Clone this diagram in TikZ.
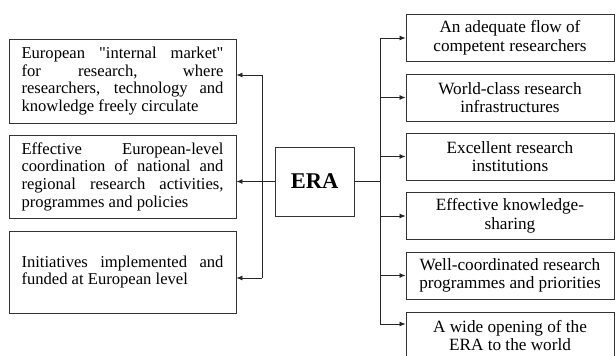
\documentclass[tikz,border=0pt]{standalone}
\usepackage{fontspec}
\setmainfont{Liberation Serif}[Ligatures=TeXOff]
\usepackage{tikz}
\usetikzlibrary{positioning,arrows.meta}

\begin{document}
\begin{tikzpicture}[x=1pt,y=-1pt,
  leftbox/.style={draw=black!80,line width=0.9pt,text width=202pt,inner xsep=12.5pt,minimum width=227pt,align=justify,font=\fontsize{16.6pt}{17.7pt}\selectfont},
  rightbox/.style={draw=black!80,line width=0.9pt,minimum width=208pt,minimum height=47pt,align=center,font=\fontsize{17.2pt}{18.7pt}\selectfont},
  arr/.style={-{Latex[length=6pt,width=5pt]},line width=0.8pt,black!85}]
\useasboundingbox (0,0) rectangle (616,356);
\node[draw=black!80,line width=0.9pt,minimum width=79pt,minimum height=69pt,font=\fontsize{22.5pt}{24pt}\selectfont\bfseries] (era) at (314.5,181.5) {ERA};
\node[leftbox,minimum height=84pt] (lbox1) at (122.5,81) {European "internal market"\linebreak for research, where\linebreak researchers, technology and\linebreak knowledge freely circulate};
\node[leftbox,minimum height=83pt] (lbox2) at (122.5,176.5) {Effective European-level\linebreak coordination of national and\linebreak regional research activities,\linebreak programmes and policies};
\node[leftbox,minimum height=82pt] (lbox3) at (122.5,272) {Initiatives implemented and\linebreak funded at European level\par\vspace*{17pt}};
\foreach \i/\y/\t in {1/38/An adequate flow of\\competent researchers,2/97.5/World-class research\\infrastructures,3/156.5/Excellent research\\institutions,4/216/Effective knowledge-\\sharing,5/275.5/Well-coordinated research\\programmes and priorities,6/335.5/A wide opening of the\\ERA to the world}
  \node[rightbox] (r\i) at (510,\y) {\t};
\coordinate (ltop) at (262,75);
\coordinate (lbot) at (262,278);
\coordinate (rtop) at (380,38);
\coordinate (rbot) at (380,324);
\draw[line width=0.8pt,black!85] (ltop) -- (lbot);
\draw[arr] (ltop) -- (ltop -| lbox1.east);
\draw[arr] (lbot) -- (lbot -| lbox3.east);
\draw[arr] (era.west) -- (era.west -| lbox2.east);
\draw[line width=0.8pt,black!85] (era.east) -- (era.east -| rtop) (rtop) -- (rbot);
\foreach \i in {1,...,5}
  \draw[arr] (rtop |- r\i.west) -- (r\i.west);
\draw[arr] (rbot) -- (rbot -| r6.west);
\end{tikzpicture}
\end{document}
